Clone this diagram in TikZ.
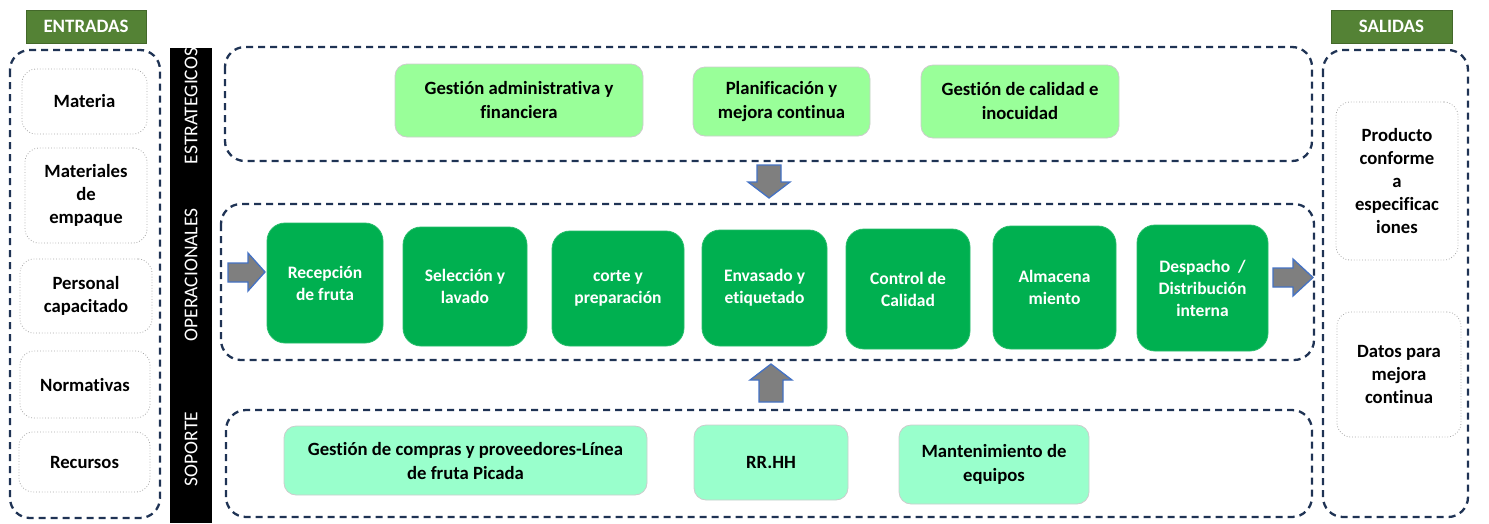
\documentclass[tikz,border=0pt]{standalone}
\usepackage{fontspec}
\setmainfont{Carlito}[Ligatures=NoCommon]
\definecolor{navy}{HTML}{1F3354}
\definecolor{hdrgreen}{HTML}{548235}
\definecolor{stratgreen}{HTML}{99FF99}
\definecolor{supmint}{HTML}{99FFCC}
\definecolor{opgreen}{HTML}{00B050}
\definecolor{arrowblue}{HTML}{4472C4}
\definecolor{arrowgray}{HTML}{7F7F7F}
\begin{document}
\begin{tikzpicture}[x=1pt,y=-1pt,
  frame/.style={draw=navy, line width=2.3pt, dash pattern=on 7pt off 5pt, rounded corners=20pt},
  header/.style={fill=hdrgreen, draw=hdrgreen!80!black, text=white, inner sep=0pt,
    font=\bfseries\fontsize{18.9}{22}\selectfont},
  iobox/.style={draw=black!35, dotted, line width=0.8pt, rounded corners=14pt, inner sep=0pt,
    align=center, font=\bfseries\fontsize{18.7}{23}\selectfont},
  stratbox/.style={fill=stratgreen, draw=black!20, line width=0.8pt, rounded corners=12pt, inner sep=0pt,
    align=center, font=\bfseries\fontsize{18.7}{24}\selectfont},
  supbox/.style={stratbox, fill=supmint},
  opbox/.style={fill=opgreen, draw=opgreen!85!white, line width=0.8pt, rounded corners=18pt, inner sep=0pt,
    align=center, text=white, font=\bfseries\fontsize{17.5}{22}\selectfont},
  sidelabel/.style={rotate=90, text=white, inner sep=0pt, font=\fontsize{19.5}{22}\selectfont},
  blockarrow/.style={fill=arrowgray, draw=arrowblue, line width=1.3pt, line join=miter}
]
\useasboundingbox (0,0) rectangle (1489,523);

% ---- inputs column ----
\node[header, minimum width=120pt, minimum height=33pt] (entr) at (86,26.5) {ENTRADAS};
\draw[frame] (10,50) rectangle (160,518);
\node[iobox, minimum width=125pt, minimum height=65pt] (in1) at (84.5,101.5) {Materia};
\node[iobox, minimum width=122pt, minimum height=95pt] (in2) at (86,195.5) {Materiales\\de\\empaque};
\node[iobox, minimum width=132pt, minimum height=74pt] (in3) at (86,296) {Personal\\capacitado};
\node[iobox, minimum width=130pt, minimum height=67pt] (in4) at (85,384.5) {Normativas};
\node[iobox, minimum width=131pt, minimum height=60pt] (in5) at (84.5,462) {Recursos};

% ---- process level bar ----
\fill[black] (170,48) rectangle (212,523);
\node[sidelabel] (lvl1) at (191,106) {ESTRATEGICOS};
\node[sidelabel] (lvl2) at (191,275) {OPERACIONALES};
\node[sidelabel] (lvl3) at (191,449) {SOPORTE};

% ---- strategic processes ----
\draw[frame] (225,47) rectangle (1312,161);
\node[stratbox, minimum width=248pt, minimum height=73pt] (s1) at (519,100.5) {Gestión administrativa y\\financiera};
\node[stratbox, minimum width=177pt, minimum height=69pt] (s2) at (781.5,101.5) {Planificación y\\mejora continua};
\node[stratbox, minimum width=198pt, minimum height=73pt] (s3) at (1020,101.5) {Gestión de calidad e\\inocuidad};

% ---- operational processes ----
\draw[frame] (221,204) rectangle (1314,360);
\node[opbox, minimum width=116pt, minimum height=120pt] (o1) at (325,283) {Recepción\\de fruta};
\node[opbox, minimum width=124pt, minimum height=119pt] (o2) at (465,286.5) {Selección y\\lavado};
\node[opbox, minimum width=132pt, minimum height=115pt] (o3) at (618,288.5) {corte y\\preparación};
\node[opbox, minimum width=125pt, minimum height=116pt] (o4) at (764.5,288) {Envasado y\\etiquetado};
\node[opbox, minimum width=124pt, minimum height=120pt] (o5) at (908,289) {Control de\\Calidad};
\node[opbox, minimum width=123pt, minimum height=123pt] (o6) at (1054.5,287.5) {Almacena\\miento};
\node[opbox, minimum width=131pt, minimum height=126pt] (o7) at (1202.5,288) {Despacho~~/\\Distribución\\interna};

% ---- support processes ----
\draw[frame] (226,410) rectangle (1312,517);
\node[supbox, minimum width=363pt, minimum height=69pt] (p1) at (465.5,460.5) {Gestión de compras y proveedores-Línea\\de fruta Picada};
\node[supbox, minimum width=154pt, minimum height=75pt] (p2) at (771,462.5) {RR.HH};
\node[supbox, minimum width=190pt, minimum height=79pt] (p3) at (994,464.5) {Mantenimiento de\\equipos};

% ---- outputs column ----
\node[header, minimum width=121pt, minimum height=33pt] (sal) at (1391.5,26.5) {SALIDAS};
\draw[frame] (1323,50) rectangle (1468,517);
\node[iobox, minimum width=122pt, minimum height=158pt] (out1) at (1397,181) {Producto\\conforme\\a\\especificac\\iones};
\node[iobox, minimum width=124pt, minimum height=125pt] (out2) at (1399,374.5) {Datos para\\mejora\\continua};

% ---- block arrows ----
% strategic -> operational (down)
\coordinate (dn) at (769,165);
\draw[blockarrow] (dn) ++(-12,0) -- ++(24,0) -- ++(0,17) -- ++(9,0) -- (769,198) -- (748,182) -- ++(9,0) -- cycle;
% support -> operational (up)
\coordinate (up) at (771,364);
\draw[blockarrow] (up) -- (792,380) -- (783,380) -- (783,402) -- (759,402) -- (759,380) -- (750,380) -- cycle;
% into the operational chain
\coordinate (inA) at (265,272);
\draw[blockarrow] (inA) -- (248,291) -- (248,282) -- (228,282) -- (228,263) -- (248,263) -- (248,253) -- cycle;
% out of the operational chain
\coordinate (outA) at (1313,277.5);
\draw[blockarrow] (outA) -- (1293,296) -- (1293,287) -- (1273,287) -- (1273,268) -- (1293,268) -- (1293,259) -- cycle;
\end{tikzpicture}
\end{document}
